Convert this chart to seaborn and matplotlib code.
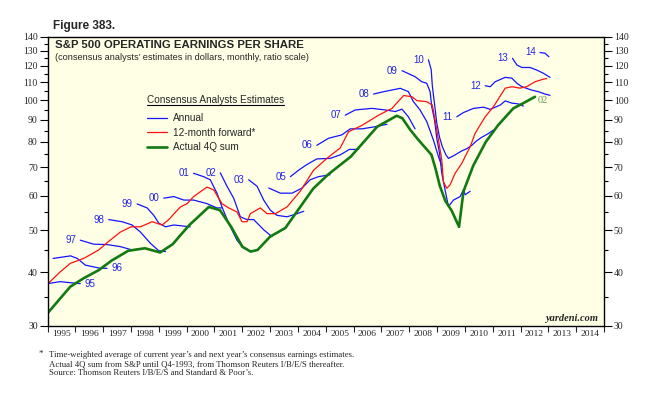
import pandas as pd
import matplotlib
matplotlib.use("Agg")
import matplotlib.pyplot as plt
from matplotlib.lines import Line2D
from matplotlib.ticker import FixedLocator, NullFormatter, FuncFormatter
import seaborn as sns

# Actual 4Q trailing sum (decimal year, dollars)
actual_x = [1995.0, 1995.82, 1996.3, 1996.84, 1997.3, 1997.9, 1998.5, 1999.05, 1999.5, 1999.78,
            2000.1, 2000.8, 2001.2, 2001.6, 2002.0, 2002.3, 2002.55, 2003.0, 2003.55, 2004.1,
            2004.55, 2005.1, 2005.9, 2006.85, 2007.55, 2007.75, 2008.04, 2008.33, 2008.63, 2008.8,
            2008.95, 2009.1, 2009.3, 2009.53, 2009.79, 2009.95, 2010.3, 2010.75, 2011.2, 2011.74,
            2012.05, 2012.52]
actual_y = [32.1, 37.0, 38.7, 40.4, 42.5, 44.8, 45.4, 44.4, 46.4, 48.7,
            51.4, 56.6, 55.6, 50.9, 45.8, 44.6, 45.0, 48.3, 50.6, 56.8,
            62.4, 67.4, 74.0, 86.8, 92.0, 90.8, 85.3, 80.9, 76.9, 74.7,
            69.2, 63.3, 58.4, 55.4, 50.9, 61.5, 70.5, 80.0, 87.6, 95.7,
            98.0, 101.8]

# 12-month forward consensus
fwd_x = [1995.0, 1995.45, 1995.82, 1996.3, 1996.84, 1997.2, 1997.62, 1998.0, 1998.34, 1998.76,
         1999.12, 1999.36, 1999.55, 1999.78, 2000.02, 2000.25, 2000.73, 2000.97, 2001.27, 2001.51,
         2001.81, 2001.99, 2002.17, 2002.29, 2002.65, 2002.89, 2003.19, 2003.61, 2004.08, 2004.56,
         2005.04, 2005.52, 2005.82, 2006.3, 2006.9, 2007.38, 2007.8, 2008.1, 2008.28, 2008.63,
         2008.83, 2008.93, 2009.05, 2009.17, 2009.23, 2009.35, 2009.47, 2009.65, 2009.89, 2010.01,
         2010.19, 2010.37, 2010.55, 2010.73, 2011.03, 2011.45, 2011.69, 2011.98, 2012.22, 2012.52,
         2012.82, 2012.94]
fwd_y = [37.5, 40.0, 41.9, 43.0, 45.0, 47.1, 49.5, 50.9, 50.9, 52.3,
         51.4, 52.9, 54.6, 56.6, 57.6, 59.8, 62.9, 62.0, 57.6, 56.3,
         55.1, 52.3, 52.3, 54.6, 56.3, 54.6, 54.6, 56.6, 61.5, 68.8,
         73.3, 77.5, 84.5, 87.4, 92.3, 95.7, 102.5, 101.8, 99.7, 99.2,
         97.4, 89.9, 80.9, 72.7, 64.7, 62.5, 63.7, 67.7, 71.4, 74.0,
         78.0, 83.8, 87.6, 91.5, 96.6, 106.6, 107.4, 106.6, 107.4, 110.3,
         111.8, 112.2]

# annual consensus estimates, one line per fiscal year
x95 = [1995.0, 1995.45, 1995.8, 1996.18]
y95 = [37.6, 38.0, 37.8, 37.6]
x96 = [1995.2, 1995.83, 1996.07, 1996.36, 1996.9, 1997.14]
y96 = [43.0, 43.6, 43.0, 41.5, 40.8, 40.8]
x97 = [1996.18, 1996.66, 1997.14, 1997.62, 1998.04, 1998.34]
y97 = [47.4, 46.4, 46.3, 45.8, 45.0, 45.2]
x98 = [1997.2, 1997.68, 1998.04, 1998.34, 1998.7, 1999.0, 1999.24]
y98 = [52.9, 52.3, 51.4, 49.5, 46.6, 44.8, 44.6]
x99 = [1998.22, 1998.58, 1998.82, 1999.0, 1999.24, 1999.54, 1999.78, 2000.13]
y99 = [57.5, 56.3, 54.1, 51.9, 50.9, 51.4, 51.2, 50.9]
x00 = [1999.18, 1999.54, 1999.9, 2000.25, 2000.73, 2001.09, 2001.27]
y00 = [59.3, 59.8, 58.7, 58.7, 57.6, 56.3, 56.3]
x01 = [2000.25, 2000.61, 2000.85, 2001.09, 2001.27, 2001.51, 2001.81, 2002.05, 2002.17]
y01 = [67.7, 66.5, 65.4, 60.9, 56.6, 51.9, 47.4, 45.4, 45.2]
x02 = [2001.21, 2001.45, 2001.69, 2001.93, 2002.17, 2002.41, 2002.77, 2003.07]
y02 = [67.9, 63.2, 59.3, 53.7, 52.9, 52.9, 50.1, 48.3]
x03 = [2002.23, 2002.53, 2002.77, 2003.01, 2003.25, 2003.61, 2003.97, 2004.21]
y03 = [65.4, 63.2, 58.7, 55.6, 54.1, 53.7, 54.6, 55.3]
x04 = [2002.95, 2003.37, 2003.79, 2004.15, 2004.44, 2004.74, 2005.16]
y04 = [62.6, 60.9, 60.9, 62.6, 65.4, 66.5, 67.2]
x05 = [2003.73, 2004.02, 2004.3, 2004.68, 2005.16, 2005.52, 2005.85, 2006.18]
y05 = [66.5, 68.8, 70.8, 73.1, 73.3, 74.7, 76.9, 76.9]
x06 = [2004.68, 2005.1, 2005.58, 2005.88, 2006.3, 2006.78, 2007.2]
y06 = [78.6, 81.6, 83.1, 85.8, 85.8, 86.8, 87.9]
x07 = [2005.7, 2006.06, 2006.66, 2007.14, 2007.5, 2007.74, 2007.97, 2008.21]
y07 = [92.3, 94.9, 95.7, 94.9, 94.1, 95.3, 91.5, 85.8]
x08 = [2006.72, 2007.08, 2007.68, 2007.97, 2008.15, 2008.39, 2008.63, 2008.87, 2009.05, 2009.17]
y08 = [103.3, 104.6, 106.5, 104.6, 99.2, 94.9, 89.2, 80.8, 74.0, 70.5]
x09 = [2007.74, 2008.21, 2008.45, 2008.63, 2008.75, 2008.81, 2008.91, 2008.99, 2009.09,
       2009.17, 2009.29, 2009.41, 2009.59, 2009.83, 2009.95, 2010.01, 2010.19]
y09 = [117.0, 113.3, 110.3, 109.4, 104.6, 96.5, 89.9, 81.6, 75.3,
       67.7, 61.9, 56.7, 58.7, 59.8, 62.0, 60.4, 61.5]
x10 = [2008.69, 2008.79, 2008.83, 2008.91, 2008.99, 2009.09, 2009.19, 2009.32, 2009.41,
       2009.65, 2009.89, 2010.07, 2010.25, 2010.4, 2010.6, 2010.85, 2011.03]
y10 = [124.0, 117.6, 108.0, 97.9, 88.5, 82.0, 78.0, 74.7, 73.3,
       74.7, 76.3, 77.2, 78.6, 80.3, 82.0, 83.7, 85.3]
x11 = [2009.71, 2009.95, 2010.31, 2010.67, 2010.91, 2011.27, 2011.45, 2011.69, 2011.92, 2012.1]
y11 = [91.5, 93.6, 95.7, 96.3, 95.2, 97.4, 99.6, 98.4, 98.0, 96.9]
x12 = [2010.73, 2010.91, 2011.09, 2011.45, 2011.69, 2011.87, 2012.05, 2012.4, 2012.64, 2012.88, 2013.06]
y12 = [108.0, 107.4, 110.3, 112.9, 112.4, 109.4, 107.4, 105.5, 104.6, 103.3, 102.6]
x13 = [2011.71, 2011.87, 2012.05, 2012.34, 2012.58, 2012.82, 2013.06]
y13 = [125.0, 120.6, 119.0, 119.0, 117.4, 115.4, 112.9]
x14 = [2012.7, 2012.88, 2013.02]
y14 = [128.9, 128.4, 126.0]

annual_labels = ["95", "96", "97", "98", "99", "00", "01", "02", "03", "04",
                 "05", "06", "07", "08", "09", "10", "11", "12", "13", "14"]
annual_xs = [x95, x96, x97, x98, x99, x00, x01, x02, x03, x04,
             x05, x06, x07, x08, x09, x10, x11, x12, x13, x14]
annual_ys = [y95, y96, y97, y98, y99, y00, y01, y02, y03, y04,
             y05, y06, y07, y08, y09, y10, y11, y12, y13, y14]
end_labelled = ["95", "96"]   # these lines began before 1995, tagged at their right end
unlabelled = ["04"]
last_quarter = "02"

years = list(range(1995, 2015))
y_major = [30, 40, 50, 60, 70, 80, 90, 100, 110, 120, 130, 140]
y_minor = [35, 45, 55, 65, 75, 85, 95, 105, 115, 125, 135]

BLUE = "#1414ff"
RED = "#ff1010"
GREEN = "#117a11"
SANS = "Liberation Sans"
SERIF = "Liberation Serif"

frames = []
for lab, xs, ys in zip(annual_labels, annual_xs, annual_ys):
    frames.append(pd.DataFrame({"year": xs, "eps": ys, "line": lab}))
annual_df = pd.concat(frames, ignore_index=True)
fwd_df = pd.DataFrame({"year": fwd_x, "eps": fwd_y})
act_df = pd.DataFrame({"year": actual_x, "eps": actual_y})

sns.set_style("white")
plt.rcParams["font.family"] = [SANS, "DejaVu Sans"]

W, H = 651, 396
fig = plt.figure(figsize=(W / 100, H / 100), dpi=100)
ax = fig.add_axes([47.5 / W, 1 - 326 / H, 556.5 / W, 289 / H])
ax.set_facecolor("#ffffe6")

sns.lineplot(data=annual_df, x="year", y="eps", units="line", estimator=None, sort=False,
             color=BLUE, lw=0.9, ax=ax, legend=False)
sns.lineplot(data=fwd_df, x="year", y="eps", sort=False, color=RED, lw=0.9, ax=ax, legend=False)
sns.lineplot(data=act_df, x="year", y="eps", sort=False, color=GREEN, lw=1.9, ax=ax, legend=False)

# year tags on the annual estimate lines
for lab, xs, ys in zip(annual_labels, annual_xs, annual_ys):
    if lab in unlabelled:
        continue
    if lab in end_labelled:
        ax.annotate(lab, (xs[-1], ys[-1]), xytext=(3, 0), textcoords="offset points",
                    ha="left", va="center", fontsize=7, color="#2424e6")
    else:
        ax.annotate(lab, (xs[0], ys[0]), xytext=(-3, 0), textcoords="offset points",
                    ha="right", va="center", fontsize=7, color="#2424e6")
ax.annotate(last_quarter, (actual_x[-1], actual_y[-1]), xytext=(2, -2.5), textcoords="offset points",
            ha="left", va="center", fontsize=7.5, color="#6a9a5c", family=SERIF)

ax.set_yscale("log")
ax.set_ylim(30, 140)
ax.set_xlim(1995, 2015)
ax.yaxis.set_major_locator(FixedLocator(y_major))
ax.yaxis.set_minor_locator(FixedLocator(y_minor))
ax.yaxis.set_major_formatter(FuncFormatter(lambda v, p: f"{v:.0f}"))
ax.yaxis.set_minor_formatter(NullFormatter())
ax.xaxis.set_major_locator(FixedLocator(years + [2015]))
ax.xaxis.set_major_formatter(NullFormatter())
ax.xaxis.set_minor_locator(FixedLocator([y + 0.5 for y in years]))
ax.xaxis.set_minor_formatter(FuncFormatter(lambda v, p: f"{int(v)}"))
ax.tick_params(axis="y", which="both", direction="out", left=True, right=True,
               labelleft=True, labelright=True, width=0.8, color="black")
ax.tick_params(axis="y", which="major", length=5.5, pad=1.5, labelsize=7)
ax.tick_params(axis="y", which="minor", length=3)
ax.tick_params(axis="x", which="major", direction="out", bottom=True, length=4.3, width=0.8)
ax.tick_params(axis="x", which="minor", bottom=True, length=0, pad=3, labelsize=6.8)
for t in ax.get_yticklabels() + ax.get_xticklabels(minor=True):
    t.set_family(SERIF)
for s in ax.spines.values():
    s.set_color("black")
    s.set_linewidth(1.0)
ax.set_xlabel("")
ax.set_ylabel("")

# titles
fig.text(53 / W, 1 - 26 / H, "Figure 383.", fontsize=8.5, fontweight="bold", va="center")
fig.text(55 / W, 1 - 45 / H, "S&P 500 OPERATING EARNINGS PER SHARE", fontsize=8.2, fontweight="bold", va="center")
fig.text(55 / W, 1 - 58 / H, "(consensus analysts\u2019 estimates in dollars, monthly, ratio scale)",
         fontsize=6.6, va="center")

# legend with underlined heading
head = fig.text(147 / W, 1 - 100 / H, "Consensus Analysts Estimates", fontsize=7.2, va="center")
fig.canvas.draw()
bb = head.get_window_extent().transformed(fig.transFigure.inverted())
fig.add_artist(Line2D([bb.x0, bb.x1], [1 - 104.5 / H] * 2, color="black", lw=0.8, transform=fig.transFigure))
handles = [Line2D([], [], color=BLUE, lw=0.9), Line2D([], [], color=RED, lw=0.9),
           Line2D([], [], color=GREEN, lw=1.9)]
fig.legend(handles, ["Annual", "12-month forward*", "Actual 4Q sum"], loc="upper left",
           bbox_to_anchor=(147 / W, 1 - 113 / H), frameon=False, fontsize=7.2,
           borderpad=0, borderaxespad=0, handlelength=2.0, handletextpad=0.6, labelspacing=0.45)

ax.text(0.99, 0.025, "yardeni.com", transform=ax.transAxes, ha="right", va="center",
        fontsize=7.5, fontweight="bold", style="italic", family=SERIF)

# footnotes
fig.text(39 / W, 1 - 354 / H, "*", fontsize=6.5, family=SERIF, va="center")
notes = ["Time-weighted average of current year\u2019s and next year\u2019s consensus earnings estimates.",
         "Actual 4Q sum from S&P until Q4-1993, from Thomson Reuters I/B/E/S thereafter.",
         "Source: Thomson Reuters I/B/E/S and Standard & Poor\u2019s."]
for i, line in enumerate(notes):
    fig.text(49 / W, 1 - (355 + 9 * i) / H, line, fontsize=6.3, family=SERIF, va="center")

fig.savefig("out.png", dpi=100, facecolor="white")
